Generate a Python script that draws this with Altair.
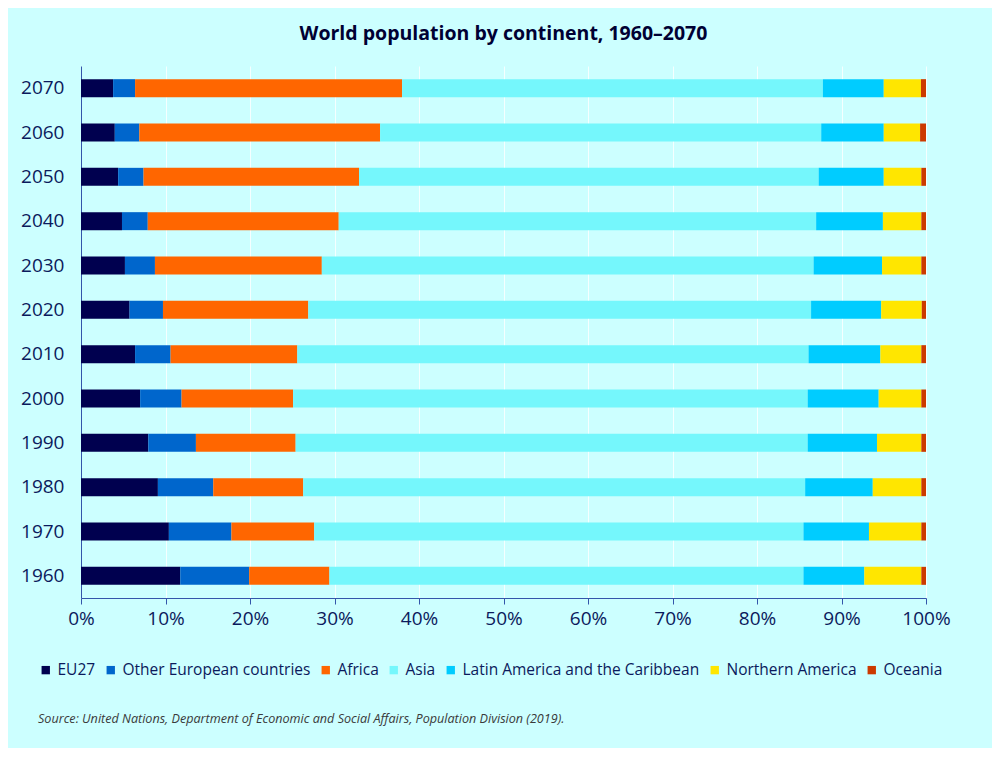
import altair as alt
import pandas as pd

years = ["1960", "1970", "1980", "1990", "2000", "2010", "2020", "2030", "2040", "2050", "2060", "2070"]
regions = ["EU27", "Other European countries", "Africa", "Asia",
           "Latin America and the Caribbean", "Northern America", "Oceania"]
colors = ["#00004f", "#0066cc", "#ff6600", "#75f7fc", "#00ccff", "#ffe600", "#cc3a00"]

eu27 = [11.75, 10.4, 9.1, 7.97, 7.0, 6.4, 5.75, 5.2, 4.85, 4.4, 4.0, 3.8]
other_europe = [8.15, 7.4, 6.55, 5.63, 4.9, 4.2, 3.95, 3.55, 3.05, 3.0, 2.9, 2.6]
africa = [9.5, 9.8, 10.65, 11.8, 13.2, 15.0, 17.2, 19.75, 22.6, 25.5, 28.5, 31.6]
asia = [56.1, 57.9, 59.4, 60.6, 60.9, 60.5, 59.5, 58.2, 56.5, 54.4, 52.2, 49.8]
latin_america = [7.2, 7.75, 8.0, 8.2, 8.4, 8.5, 8.3, 8.1, 7.9, 7.7, 7.4, 7.2]
northern_america = [6.75, 6.2, 5.75, 5.25, 5.05, 4.85, 4.8, 4.65, 4.55, 4.45, 4.3, 4.4]
oceania = [0.55, 0.55, 0.55, 0.55, 0.55, 0.55, 0.5, 0.55, 0.55, 0.55, 0.7, 0.6]

series = [eu27, other_europe, africa, asia, latin_america, northern_america, oceania]
rows = []
for ri, (name, vals) in enumerate(zip(regions, series)):
    for y, v in zip(years, vals):
        rows.append({"year": y, "region": name, "order": ri, "share": v})
df = pd.DataFrame(rows)

FONT = "Open Sans"
NAVY = "#0b1a5c"

bars = alt.Chart(df).mark_bar(size=18).encode(
    y=alt.Y("year:N", sort=list(reversed(years)), title=None,
            scale=alt.Scale(paddingInner=0.6, paddingOuter=0.3),
            axis=alt.Axis(ticks=False, labelPadding=17, labelFontSize=19,
                          labelColor=NAVY, domainColor="#3355aa", labelFont=FONT)),
    x=alt.X("share:Q", stack="normalize", title=None,
            scale=alt.Scale(domain=[0, 1]),
            axis=alt.Axis(format="%", values=[i / 10 for i in range(11)],
                          labelFontSize=19, labelColor=NAVY, labelFont=FONT,
                          labelFlush=False,
                          domainColor="#3355aa", tickColor="#3355aa", tickSize=6,
                          labelPadding=5, grid=True, gridColor="#ffffff",
                          gridOpacity=0.8)),
    color=alt.Color("region:N", sort=regions,
                    scale=alt.Scale(domain=regions, range=colors),
                    legend=alt.Legend(title=None, orient="none", direction="horizontal",
                                      columns=7, legendX=-43, legendY=596,
                                      symbolType="square", symbolSize=70,
                                      symbolStrokeWidth=0, labelFontSize=15.5,
                                      labelFont=FONT, labelColor=NAVY, labelLimit=0,
                                      columnPadding=7, labelOffset=4)),
    order=alt.Order("order:Q"),
)

source = alt.Chart(pd.DataFrame({"t": ["Source: United Nations, Department of Economic and Social Affairs, Population Division (2019)."]})).mark_text(
    align="left", baseline="middle", fontStyle="italic", fontSize=12.6, font=FONT, color="#3a3a3a"
).encode(text="t:N", x=alt.value(-43), y=alt.value(653))

chart = alt.layer(bars, source).properties(
    width=845, height=532,
    background="#ccffff",
    padding={"left": 73, "top": 58, "right": 66, "bottom": 150},
    autosize=alt.AutoSizeParams(type="none"),
    title=alt.Title("World population by continent, 1960–2070", fontSize=19.5,
                    font=FONT, fontWeight="bold", color="#000033", offset=22, anchor="middle"),
).configure_view(stroke=None)

chart.save("out.html", embed_options={"renderer": "svg", "actions": False})
